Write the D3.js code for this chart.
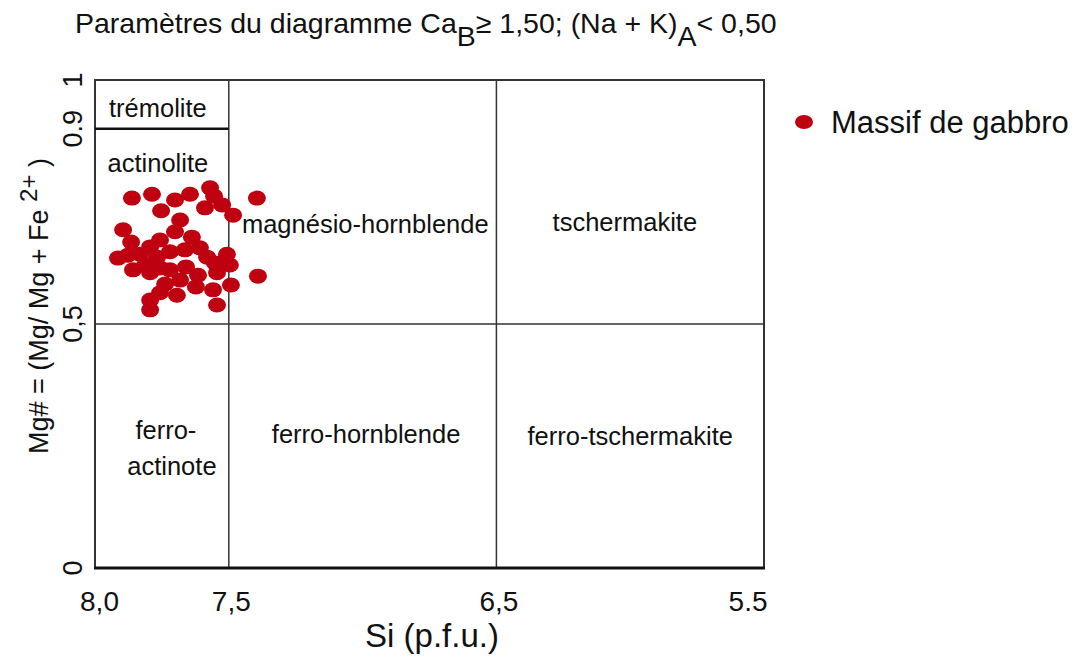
<!DOCTYPE html>
<html>
<head>
<meta charset="utf-8">
<script src="https://cdn.jsdelivr.net/npm/d3@7"></script>
<style>
  body { margin: 0; background: #fff; }
  svg { display: block; }
  text { font-family: "Liberation Sans", Arial, sans-serif; fill: #111; }
</style>
</head>
<body>
<svg id="chart" width="1075" height="657"></svg>
<script>
// Axis ticks (Si decreases to the right)
const siTicks = [8.0, 7.5, 6.5, 5.5];
const siTickLabels = ["8,0", "7,5", "6,5", "5.5"];
const mgTicks = [0, 0.5, 0.9, 1];
const mgTickLabels = ["0", "0,5", "0.9", "1"];

// Amphibole analyses: Si (p.f.u.) and Mg# of each grain
const siValues = [7.862, 7.787, 7.701, 7.645, 7.570, 7.555, 7.589, 7.525, 7.484, 7.395,
  7.753, 7.682, 7.895, 7.701, 7.638, 7.757, 7.865, 7.794, 7.914, 7.877,
  7.832, 7.768, 7.720, 7.664, 7.608, 7.581, 7.507, 7.552, 7.496, 7.813,
  7.757, 7.858, 7.794, 7.660, 7.720, 7.615, 7.544, 7.391, 7.682, 7.623,
  7.559, 7.492, 7.738, 7.694, 7.757, 7.794, 7.794, 7.544];
const mgValues = [0.758, 0.766, 0.754, 0.766, 0.779, 0.762, 0.738, 0.744, 0.723, 0.758,
  0.732, 0.713, 0.693, 0.689, 0.678, 0.672, 0.668, 0.658, 0.635, 0.641,
  0.643, 0.637, 0.648, 0.652, 0.656, 0.637, 0.643, 0.625, 0.621, 0.621,
  0.615, 0.611, 0.605, 0.617, 0.611, 0.600, 0.605, 0.598, 0.590, 0.576,
  0.570, 0.580, 0.582, 0.559, 0.564, 0.549, 0.529, 0.539];

// Classification fields: names and label anchors in data units
const fieldLines = [["trémolite"], ["actinolite"], ["magnésio-hornblende"], ["tschermakite"],
  ["ferro-", "actinote"], ["ferro-hornblende"], ["ferro-tschermakite"]];
const fieldSi = [7.765, 7.765, 6.99, 6.02, 7.735, 6.987, 6.0];
const fieldMg = [0.943, 0.830, 0.705, 0.709, 0.246, 0.275, 0.270];

// Field boundaries in data units
const siBounds = [7.5, 6.5];
const mgBound = 0.5;
const tremoliteBound = { mg: 0.9, si0: 8.0, si1: 7.5 };

const seriesName = "Massif de gabbro";
const seriesColor = "#bf0010";

const svg = d3.select("#chart");
const x = d3.scaleLinear().domain([8.0, 5.5]).range([95, 764]);
const y = d3.scaleLinear().domain([0, 1]).range([568, 80]);

// Title with subscripts
const title = svg.append("text").attr("x", 75).attr("y", 33).style("font-size", "28.5px");
title.append("tspan").text("Paramètres du diagramme Ca");
title.append("tspan").attr("dy", 13).text("B");
title.append("tspan").attr("dy", -13).text("≥ 1,50; (Na + K)");
title.append("tspan").attr("dy", 13).text("A");
title.append("tspan").attr("dy", -13).text("< 0,50");

// Frame
const g = svg.append("g");
g.append("path")
  .attr("d", `M${x(8.0)},${y(0)}V${y(1)}H${x(5.5)}V${y(0)}`)
  .attr("fill", "none").attr("stroke", "#333").attr("stroke-width", 2);

// Field boundaries
siBounds.forEach(s => g.append("line")
  .attr("x1", x(s)).attr("x2", x(s)).attr("y1", y(0)).attr("y2", y(1))
  .attr("stroke", "#333").attr("stroke-width", 1.5));
g.append("line")
  .attr("x1", x(8.0)).attr("x2", x(5.5)).attr("y1", y(mgBound)).attr("y2", y(mgBound))
  .attr("stroke", "#333").attr("stroke-width", 1.5);
g.append("line")
  .attr("x1", x(tremoliteBound.si0)).attr("x2", x(tremoliteBound.si1))
  .attr("y1", y(tremoliteBound.mg)).attr("y2", y(tremoliteBound.mg))
  .attr("stroke", "#111").attr("stroke-width", 2.5);

// Bottom axis line
g.append("line")
  .attr("x1", x(8.0) - 1).attr("x2", x(5.5) + 1).attr("y1", y(0)).attr("y2", y(0))
  .attr("stroke", "#111").attr("stroke-width", 3);

// X axis tick labels
const xAxis = d3.axisBottom(x).tickValues(siTicks).tickSize(0)
  .tickFormat((d, i) => siTickLabels[i]);
const xg = svg.append("g").attr("transform", `translate(0,${y(0) + 20})`).call(xAxis);
xg.select(".domain").remove();
xg.selectAll("text").attr("fill", "#111").attr("font-family", null).style("font-size", "28px")
  .attr("text-anchor", (d, i) => i === siTicks.length - 1 ? "end" : "middle")
  .attr("dx", (d, i) => i === 0 ? 4 : (i === siTicks.length - 1 ? 3 : 2));

// Y axis tick labels (rotated)
mgTicks.forEach((m, i) => svg.append("text")
  .attr("transform", `translate(82,${y(m)}) rotate(-90)`)
  .attr("text-anchor", "middle")
  .style("font-size", "27px")
  .text(mgTickLabels[i]));

// Axis titles
svg.append("text").attr("x", 432).attr("y", 647).attr("text-anchor", "middle")
  .style("font-size", "33px").text("Si (p.f.u.)");
const yt = svg.append("text").attr("transform", "translate(48,306) rotate(-90)")
  .attr("text-anchor", "middle").style("font-size", "27px");
yt.append("tspan").text("Mg# = (Mg/ Mg + Fe ");
yt.append("tspan").attr("dy", -11).style("font-size", "24px").text("2+");
yt.append("tspan").attr("dy", 11).text(" )");

// Field labels
fieldLines.forEach((lines, i) => {
  const t = svg.append("text").attr("text-anchor", "middle").style("font-size", "25.5px")
    .attr("x", x(fieldSi[i])).attr("y", y(fieldMg[i]));
  const n = lines.length;
  lines.forEach((ln, j) => t.append("tspan").attr("x", x(fieldSi[i]) + (j > 0 ? 6 : 0))
    .attr("dy", j === 0 ? `${0.35 - (n - 1) * 0.7}em` : "1.4em").text(ln));
});

// Data points
svg.append("g").selectAll("ellipse")
  .data(siValues.map((s, i) => [s, mgValues[i]]))
  .join("ellipse")
  .attr("cx", d => x(d[0])).attr("cy", d => y(d[1]))
  .attr("rx", 9).attr("ry", 7.5)
  .attr("fill", seriesColor);

// Legend
const lg = svg.append("g").attr("transform", "translate(804,122)");
lg.append("ellipse").attr("rx", 9).attr("ry", 7).attr("fill", seriesColor);
lg.append("text").attr("x", 27).attr("y", 11).style("font-size", "31px").text(seriesName);
</script>
</body>
</html>
